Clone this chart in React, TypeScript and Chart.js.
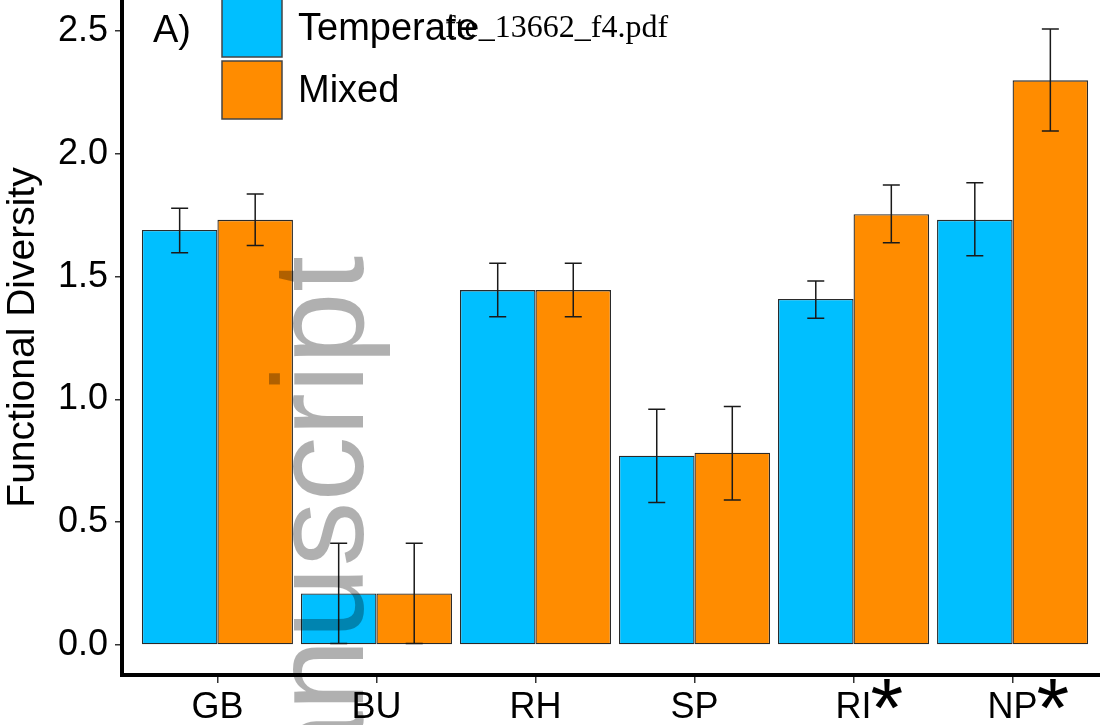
import React, { useEffect, useRef } from "react";
import { Chart, registerables } from "chart.js";

Chart.register(...registerables);

const categories = ["GB", "BU", "RH", "SP", "RI", "NP"];
const significant = [false, false, false, false, true, true];
const seriesNames = ["Temperate", "Mixed"];
const seriesColors = ["#00BFFF", "#FF8C00"];
const temperateMean = [1.69, 0.21, 1.445, 0.771, 1.409, 1.731];
const temperateLow = [1.597, 0.006, 1.337, 0.58, 1.33, 1.585];
const temperateHigh = [1.778, 0.414, 1.554, 0.96, 1.482, 1.882];
const mixedMean = [1.731, 0.21, 1.445, 0.783, 1.754, 2.299];
const mixedLow = [1.627, 0.006, 1.337, 0.59, 1.638, 2.093];
const mixedHigh = [1.836, 0.414, 1.554, 0.971, 1.873, 2.508];
const yTicks = [0, 0.5, 1.0, 1.5, 2.0, 2.5];
const yTitle = "Functional Diversity";
const panelLabel = "A)";
const fileLabel = "fte_13662_f4.pdf";
const watermark = "Accepted Manuscript";

const SANS = '"Liberation Sans", Arial, sans-serif';
const SERIF = '"Liberation Serif", "Times New Roman", serif';

const errorBounds = [
  [temperateLow, temperateHigh],
  [mixedLow, mixedHigh],
];

const errorBarPlugin = {
  id: "errorBars",
  afterDatasetsDraw(chart: any) {
    const ctx = chart.ctx;
    const yScale = chart.scales.y;
    ctx.save();
    ctx.strokeStyle = "#1a1a1a";
    ctx.lineWidth = 1.5;
    chart.data.datasets.forEach((_: any, d: number) => {
      const meta = chart.getDatasetMeta(d);
      const [low, high] = errorBounds[d];
      meta.data.forEach((bar: any, i: number) => {
        const x = bar.x;
        const yl = yScale.getPixelForValue(low[i]);
        const yh = yScale.getPixelForValue(high[i]);
        const cap = 8.5;
        ctx.beginPath();
        ctx.moveTo(x, yl);
        ctx.lineTo(x, yh);
        ctx.moveTo(x - cap, yh);
        ctx.lineTo(x + cap, yh);
        ctx.moveTo(x - cap, yl);
        ctx.lineTo(x + cap, yl);
        ctx.stroke();
      });
    });
    ctx.restore();
  },
};

const overlayPlugin = {
  id: "overlay",
  afterDraw(chart: any) {
    const ctx = chart.ctx;
    const xScale = chart.scales.x;
    ctx.save();

    // legend
    const boxX = 222;
    const boxW = 60;
    const boxTops = [-1, 61];
    const boxH = 58;
    chart.data.datasets.forEach((ds: any, i: number) => {
      ctx.fillStyle = ds.backgroundColor;
      ctx.fillRect(boxX, boxTops[i], boxW, boxH);
      ctx.strokeStyle = "#444";
      ctx.lineWidth = 1.5;
      ctx.strokeRect(boxX, boxTops[i], boxW, boxH);
      ctx.fillStyle = "#000";
      ctx.font = `38px ${SANS}`;
      ctx.textAlign = "left";
      ctx.textBaseline = "middle";
      ctx.fillText(ds.label, 298, boxTops[i] + boxH / 2 + 2);
    });

    // panel label
    ctx.fillStyle = "#000";
    ctx.font = `38px ${SANS}`;
    ctx.textAlign = "left";
    ctx.textBaseline = "alphabetic";
    ctx.fillText(panelLabel, 153, 42);

    // file label
    ctx.font = `32px ${SERIF}`;
    ctx.fillText(fileLabel, 445, 37);

    // significance asterisks
    ctx.font = `36px ${SANS}`;
    categories.forEach((c, i) => {
      if (!significant[i]) return;
      const cx = xScale.getPixelForValue(i + 1);
      const w = ctx.measureText(c).width;
      ctx.save();
      ctx.font = `84px ${SANS}`;
      ctx.textAlign = "left";
      ctx.fillText("*", cx + w / 2 - 1, 737);
      ctx.restore();
    });

    // watermark
    ctx.translate(363, 256);
    ctx.rotate(-Math.PI / 2);
    ctx.font = `130px ${SANS}`;
    ctx.fillStyle = "rgba(0,0,0,0.31)";
    ctx.textAlign = "right";
    ctx.textBaseline = "alphabetic";
    ctx.fillText(watermark, 0, 0);

    ctx.restore();
  },
};

export default function App() {
  const canvasRef = useRef<HTMLCanvasElement | null>(null);

  useEffect(() => {
    if (!canvasRef.current) return;
    const means = [temperateMean, mixedMean];
    const chart = new Chart(canvasRef.current, {
      type: "bar",
      data: {
        datasets: seriesNames.map((name, s) => ({
          label: name,
          data: categories.map((_, i) => ({ x: i + 1, y: means[s][i] })),
          backgroundColor: seriesColors[s],
          borderColor: "#2a2a2a",
          borderWidth: 1.3,
          borderSkipped: false,
          categoryPercentage: 0.95,
          barPercentage: 1.0,
        })),
      },
      options: {
        responsive: false,
        animation: false,
        devicePixelRatio: 1,
        layout: { padding: 0 },
        plugins: {
          legend: { display: false },
          tooltip: { enabled: false },
        },
        scales: {
          x: {
            type: "linear",
            min: 0.4,
            max: 6.6,
            offset: false,
            afterBuildTicks: (s: any) => {
              s.ticks = categories.map((_, i) => ({ value: i + 1 }));
            },
            afterFit: (s: any) => {
              s.height = 50;
              s.paddingLeft = 0;
              s.paddingRight = 0;
              s.paddingTop = 0;
              s.paddingBottom = 0;
            },
            ticks: {
              autoSkip: false,
              maxRotation: 0,
              padding: 3,
              color: "#000",
              font: { size: 36, family: SANS },
              callback: (v: any) => categories[Math.round(v) - 1] ?? "",
            },
            grid: {
              display: true,
              offset: false,
              drawOnChartArea: false,
              drawTicks: true,
              tickLength: 8,
              color: "#333",
              lineWidth: 1.5,
            },
            border: { display: true, width: 4, color: "#000" },
          },
          y: {
            type: "linear",
            min: -0.1221,
            max: 2.6262,
            afterBuildTicks: (s: any) => {
              s.ticks = yTicks.map((v) => ({ value: v }));
            },
            afterFit: (s: any) => {
              s.width = 122;
              s.paddingLeft = 0;
              s.paddingRight = 0;
              s.paddingTop = 0;
              s.paddingBottom = 0;
            },
            ticks: {
              autoSkip: false,
              padding: 7,
              color: "#000",
              font: { size: 36, family: SANS },
              callback: (v: any) => Number(v).toFixed(1),
            },
            grid: {
              display: true,
              offset: false,
              drawOnChartArea: false,
              drawTicks: true,
              tickLength: 7,
              color: "#333",
              lineWidth: 1.5,
            },
            border: { display: true, width: 4, color: "#000" },
            title: {
              display: true,
              text: yTitle,
              color: "#000",
              font: { size: 39, family: SANS },
              padding: { top: 0, bottom: 0 },
            },
          },
        },
      },
      plugins: [errorBarPlugin, overlayPlugin],
    });
    return () => chart.destroy();
  }, []);

  return (
    <div
      style={{
        position: "absolute",
        left: 0,
        top: 0,
        width: 1100,
        height: 725,
        overflow: "hidden",
        background: "#fff",
      }}
    >
      <canvas ref={canvasRef} width={1108} height={725} style={{ display: "block" }} />
    </div>
  );
}
